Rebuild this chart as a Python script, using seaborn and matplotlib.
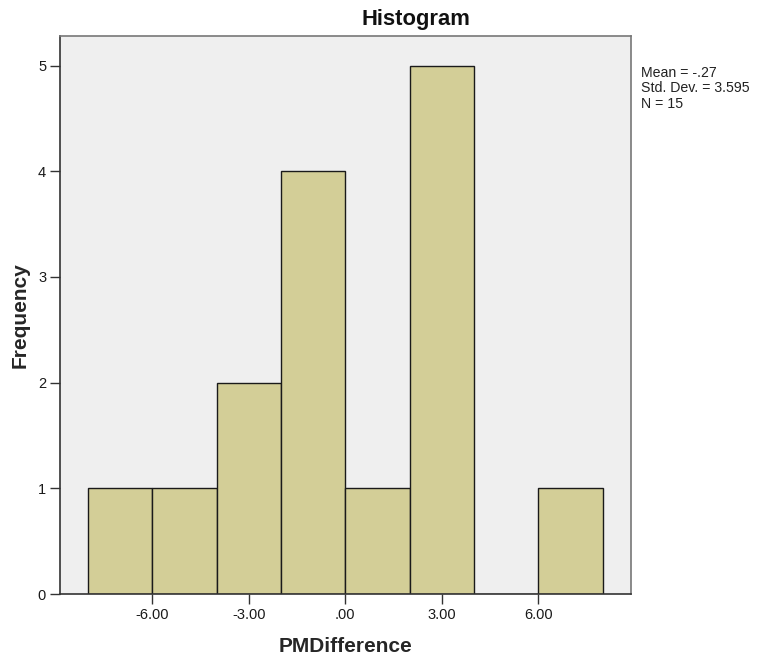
import matplotlib
matplotlib.use("Agg")
import matplotlib.pyplot as plt
import seaborn as sns
import numpy as np

# Histogram of PMDifference: bin edges and per-bin frequencies
bin_edges = [-8, -6, -4, -2, 0, 2, 4, 6, 8]
frequencies = [1, 1, 2, 4, 1, 5, 0, 1]
x_ticks = [-6, -3, 0, 3, 6]
x_tick_labels = ["-6.00", "-3.00", ".00", "3.00", "6.00"]
y_ticks = [0, 1, 2, 3, 4, 5]
stats_lines = ["Mean = -.27", "Std. Dev. = 3.595", "N = 15"]

sns.set_theme(style="white")
plt.rcParams["font.family"] = ["Liberation Sans", "DejaVu Sans"]

fig = plt.figure(figsize=(7.57, 6.60), dpi=100)
ax = fig.add_axes([60 / 757, 1 - 594 / 660, (631 - 60) / 757, (594 - 36) / 660])
ax.set_facecolor("#EFEFEF")

bin_centers = [(a + b) / 2 for a, b in zip(bin_edges[:-1], bin_edges[1:])]
sns.histplot(x=bin_centers, weights=frequencies, bins=bin_edges, ax=ax,
             color="#D3CE97", alpha=1.0, edgecolor="#1a1a1a", linewidth=1.0)

ax.set_xlim(-8.87, 8.88)
ax.set_ylim(0, 5.28)
ax.set_xticks(x_ticks)
ax.set_xticklabels(x_tick_labels)
ax.set_yticks(y_ticks)
ax.tick_params(axis="both", direction="out", length=7, width=1.0,
               color="#333333", labelsize=10.5, labelcolor="#1a1a1a", pad=3,
               bottom=True, left=True)

for side in ["left", "bottom"]:
    ax.spines[side].set_color("#333333")
    ax.spines[side].set_linewidth(1.2)
for side in ["top", "right"]:
    ax.spines[side].set_color("#777777")
    ax.spines[side].set_linewidth(1.2)

ax.set_xlabel("PMDifference", fontsize=15, fontweight="bold", labelpad=11)
ax.set_ylabel("Frequency", fontsize=15, fontweight="bold", labelpad=6)

fig.text(416 / 757, 1 - 19 / 660, "Histogram", ha="center", va="center",
         fontsize=15.8, fontweight="bold", color="#111111")

for i, line in enumerate(stats_lines):
    fig.text(641 / 757, 1 - (73 + i * 15.5) / 660, line, ha="left",
             va="center", fontsize=10.2, color="#222222")

fig.savefig("out.png", dpi=100)
